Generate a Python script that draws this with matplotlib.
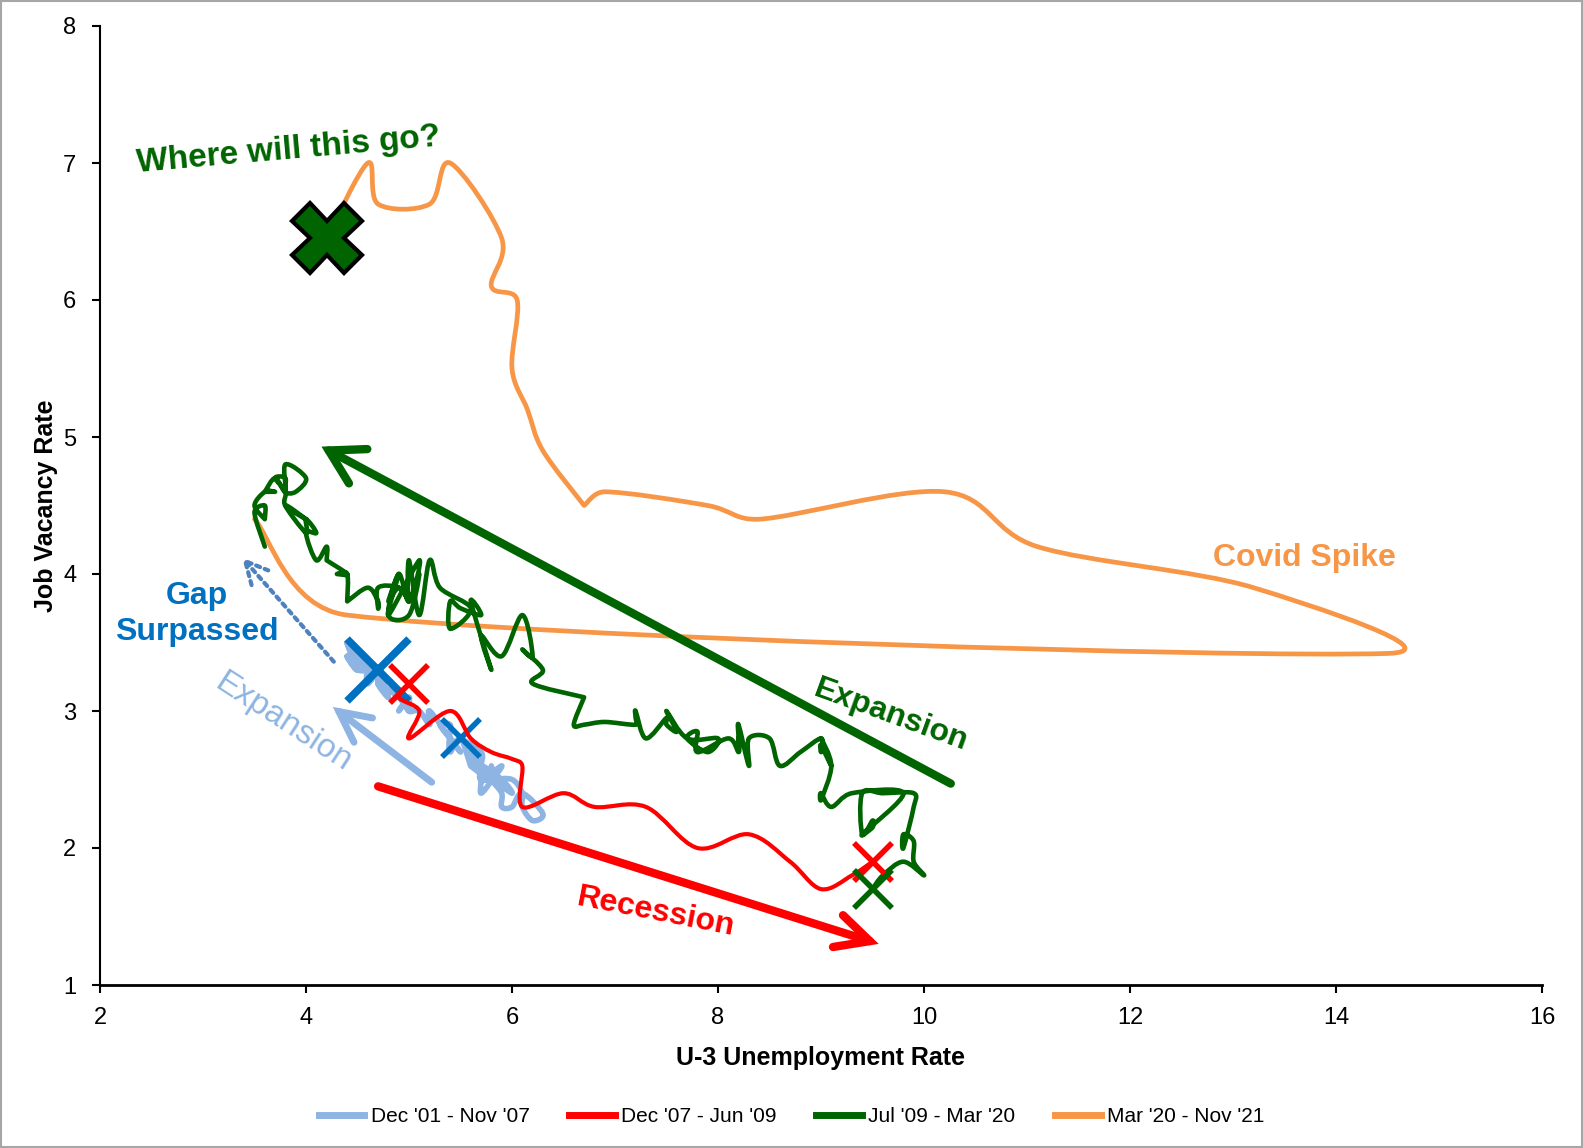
import numpy as np
import matplotlib
matplotlib.use("Agg")
import matplotlib.pyplot as plt
from matplotlib.path import Path
from matplotlib.patches import PathPatch, FancyArrowPatch, Rectangle
from matplotlib.lines import Line2D
from matplotlib import font_manager

# ---------------- data ----------------
series_labels = ["Dec '01 - Nov '07", "Dec '07 - Jun '09", "Jul '09 - Mar '20", "Mar '20 - Nov '21"]

blue_u = [5.5,
          5.7, 5.7, 5.7, 5.9, 5.8, 5.8, 5.8, 5.7, 5.7, 5.7, 5.9, 6.0,
          5.8, 5.9, 5.9, 6.0, 6.1, 6.3, 6.2, 6.1, 6.1, 6.0, 5.8, 5.7,
          5.7, 5.6, 5.8, 5.6, 5.6, 5.6, 5.5, 5.4, 5.4, 5.5, 5.4, 5.4,
          5.3, 5.4, 5.2, 5.2, 5.1, 5.0, 5.0, 4.9, 5.0, 5.0, 5.0, 4.9,
          4.7, 4.8, 4.7, 4.7, 4.6, 4.6, 4.7, 4.7, 4.5, 4.4, 4.5, 4.4,
          4.6, 4.5, 4.4, 4.5, 4.4, 4.6, 4.7, 4.6, 4.7, 4.7, 4.7]
blue_jo = [2.8,
           2.7, 2.6, 2.5, 2.6, 2.5, 2.6, 2.5, 2.4, 2.5, 2.6, 2.5, 2.4,
           2.5, 2.4, 2.3, 2.3, 2.4, 2.25, 2.2, 2.3, 2.4, 2.5, 2.5, 2.5,
           2.6, 2.6, 2.5, 2.7, 2.7, 2.6, 2.8, 2.7, 2.8, 2.7, 2.8, 2.9,
           2.9, 2.8, 3.0, 2.9, 3.0, 3.0, 3.1, 3.0, 3.1, 3.1, 3.0, 3.1,
           3.2, 3.1, 3.3, 3.3, 3.3, 3.2, 3.3, 3.3, 3.3, 3.4, 3.3, 3.5,
           3.3, 3.4, 3.5, 3.3, 3.4, 3.3, 3.3, 3.2, 3.3, 3.2, 3.3]

red_u = [5.0, 4.9, 5.1, 5.0, 5.4, 5.6, 5.8, 6.0, 6.1, 6.1, 6.5, 6.8, 7.3,
         7.8, 8.3, 8.7, 9.0, 9.3, 9.5]
red_jo = [3.2, 3.1, 3.0, 2.8, 3.0, 2.8, 2.7, 2.65, 2.6, 2.3, 2.4, 2.3, 2.3,
          2.0, 2.1, 1.9, 1.7, 1.8, 1.9]

green_u = [9.5, 9.6, 9.8, 10.0, 9.9, 9.9,
           9.8, 9.8, 9.9, 9.9, 9.6, 9.4, 9.4, 9.5, 9.5, 9.4, 9.8, 9.3,
           9.1, 9.0, 9.0, 9.1, 9.0, 9.1, 9.0, 9.0, 9.0, 8.8, 8.6, 8.5,
           8.3, 8.3, 8.2, 8.2, 8.2, 8.2, 8.2, 8.1, 7.8, 7.8, 7.7, 7.9,
           8.0, 7.7, 7.5, 7.6, 7.5, 7.5, 7.3, 7.2, 7.2, 7.2, 6.9, 6.7,
           6.6, 6.7, 6.7, 6.2, 6.3, 6.1, 6.2, 6.1, 5.9, 5.7, 5.8, 5.6,
           5.7, 5.5, 5.4, 5.4, 5.6, 5.3, 5.2, 5.1, 5.0, 5.0, 5.1, 5.0,
           4.8, 4.9, 5.0, 5.1, 4.8, 4.9, 4.8, 4.9, 5.0, 4.9, 4.7, 4.7,
           4.7, 4.6, 4.4, 4.4, 4.4, 4.3, 4.3, 4.4, 4.2, 4.2, 4.2, 4.1,
           4.0, 4.1, 4.0, 4.0, 3.8, 4.0, 3.8, 3.8, 3.7, 3.8, 3.8, 3.9,
           4.0, 3.8, 3.8, 3.7, 3.6, 3.6, 3.7, 3.6, 3.5, 3.6, 3.6, 3.6,
           3.5, 3.6]
green_jo = [1.7, 1.8, 1.9, 1.8, 1.9, 2.05,
            2.1, 2.0, 2.3, 2.4, 2.4, 2.4, 2.1, 2.2, 2.15, 2.1, 2.4, 2.4,
            2.3, 2.4, 2.35, 2.6, 2.8, 2.6, 2.75, 2.7, 2.8, 2.7, 2.6, 2.8,
            2.8, 2.6, 2.9, 2.8, 2.75, 2.8, 2.7, 2.8, 2.7, 2.85, 2.8, 2.7,
            2.8, 2.8, 3.0, 2.85, 2.9, 2.95, 2.8, 3.0, 2.95, 2.9, 2.92, 2.9,
            2.9, 3.1, 3.1, 3.2, 3.3, 3.45, 3.4, 3.7, 3.4, 3.55, 3.3, 3.8,
            3.7, 3.75, 3.8, 3.6, 3.75, 3.9, 4.1, 3.7, 4.1, 3.8, 4.0, 3.7,
            3.7, 4.0, 3.8, 4.1, 3.7, 4.0, 3.8, 3.9, 3.8, 3.9, 3.9, 3.75,
            3.8, 3.9, 3.8, 3.8, 4.0, 4.0, 4.0, 4.0, 4.1, 4.1, 4.2, 4.1,
            4.3, 4.3, 4.4, 4.3, 4.5, 4.4, 4.5, 4.6, 4.7, 4.7, 4.6, 4.6,
            4.7, 4.8, 4.6, 4.7, 4.6, 4.6, 4.6, 4.6, 4.5, 4.4, 4.4, 4.5,
            4.45, 4.2]

orange_u = [3.5, 4.4, 14.5, 13.2, 11.1, 10.2, 8.4, 7.9, 6.9, 6.7, 6.7, 6.3,
            6.15, 6.0, 6.05, 5.8, 5.9, 5.4, 5.2, 4.7, 4.6, 4.2]
orange_jo = [4.4, 3.7, 3.42, 3.9, 4.2, 4.6, 4.4, 4.5, 4.6, 4.5, 4.5, 4.9,
             5.2, 5.5, 6.0, 6.1, 6.45, 7.0, 6.7, 6.7, 7.0, 6.45]

x_ticks = [2, 4, 6, 8, 10, 12, 14, 16]
y_ticks = [1, 2, 3, 4, 5, 6, 7, 8]

# ---------------- styles ----------------
C_BLUE = '#8DB4E2'
C_RED = '#FF0000'
C_GREEN = '#006400'
C_ORANGE = '#F79646'
C_DBLUE = '#0070C0'
C_DOT = '#4F81BD'

FONT = 'Liberation Sans'
names = {f.name for f in font_manager.fontManager.ttflist}
LEG_FONT = 'Liberation Sans Narrow' if 'Liberation Sans Narrow' in names else FONT
plt.rcParams['font.family'] = [FONT, 'DejaVu Sans']

fig = plt.figure(figsize=(15.83, 11.48), dpi=100)
ax = fig.add_axes([100 / 1583, 1 - 985 / 1148, 1442 / 1583, (985 - 26) / 1148])
ax.set_xlim(2, 16)
ax.set_ylim(1, 8)
ax.set_xticks(x_ticks)
ax.set_yticks(y_ticks)
for s in ['top', 'right']:
    ax.spines[s].set_visible(False)
ax.spines['left'].set_linewidth(1.5)
ax.spines['bottom'].set_linewidth(2.0)
ax.tick_params(direction='out', length=6, width=1.5, labelsize=17)
ax.tick_params(axis='x', pad=10)
ax.tick_params(axis='y', pad=11)
ax.set_xlabel('U-3 Unemployment Rate', fontsize=18, fontweight='bold', labelpad=12)
ax.set_ylabel('Job Vacancy Rate', fontsize=18, fontweight='bold', labelpad=4)


def smooth_path(xs, ys, k=1 / 6, cap=0.45):
    P = ax.transData.transform(np.column_stack([xs, ys]))
    n = len(P)
    verts = [P[0]]
    codes = [Path.MOVETO]
    for i in range(n - 1):
        p0 = P[max(i - 1, 0)]
        p1 = P[i]
        p2 = P[i + 1]
        p3 = P[min(i + 2, n - 1)]
        seg = np.linalg.norm(p2 - p1)
        t1 = (p2 - p0) * k
        t2 = (p3 - p1) * k
        n1 = np.linalg.norm(t1)
        n2 = np.linalg.norm(t2)
        if n1 > cap * seg and n1 > 0:
            t1 = t1 * cap * seg / n1
        if n2 > cap * seg and n2 > 0:
            t2 = t2 * cap * seg / n2
        verts += [p1 + t1, p2 - t2, p2]
        codes += [Path.CURVE4] * 3
    verts = ax.transData.inverted().transform(np.array(verts))
    return Path(verts, codes)


def draw_series(xs, ys, color, lw, z):
    ax.add_patch(PathPatch(smooth_path(xs, ys), facecolor='none', edgecolor=color,
                           lw=lw, joinstyle='round', capstyle='round', zorder=z))


draw_series(orange_u, orange_jo, C_ORANGE, 3.4, 2)
draw_series(green_u, green_jo, C_GREEN, 3.3, 3)
draw_series(blue_u, blue_jo, C_BLUE, 4.0, 4)
ax.plot(blue_u[0], blue_jo[0], marker='x', ms=27, mew=4, color=C_DBLUE, zorder=5)
ax.plot(blue_u[-1], blue_jo[-1], marker='x', ms=44, mew=5.5, color=C_DBLUE, zorder=5)
draw_series(red_u, red_jo, C_RED, 3.0, 6)
ax.plot(red_u[0], red_jo[0], marker='x', ms=28, mew=4, color=C_RED, zorder=7)
ax.plot(red_u[-1], red_jo[-1], marker='x', ms=27, mew=4, color=C_RED, zorder=7)
ax.plot(green_u[0], green_jo[0], marker='x', ms=27, mew=4, color=C_GREEN, zorder=8)
ax.plot(orange_u[-1], orange_jo[-1], marker='X', ms=50, mew=3, mfc=C_GREEN, mec='black', zorder=9)


def arrow(tail, tip, color, lw, style, ls='-', z=6):
    a = FancyArrowPatch(tail, tip, arrowstyle=style, mutation_scale=20, lw=lw, color=color,
                        linestyle=ls, shrinkA=0, shrinkB=0, zorder=z, joinstyle='miter')
    ax.add_patch(a)


arrow((10.26, 2.47), (4.15, 4.93), C_GREEN, 6, '->,head_length=1.2,head_width=0.7', z=5)
arrow((4.70, 2.45), (9.56, 1.30), C_RED, 6, '->,head_length=1.2,head_width=0.6', z=5)
arrow((5.22, 2.48), (4.26, 3.03), C_BLUE, 5, '->,head_length=1.1,head_width=0.55', z=5)
arrow((4.27, 3.36), (3.38, 4.12), C_DOT, 3, '->,head_length=0.8,head_width=0.4', ls=(0, (1, 1.2)), z=5)

ax.text(3.83, 7.09, 'Where will this go?', color=C_GREEN, fontsize=24, fontweight='bold',
        rotation=5, ha='center', va='center', rotation_mode='anchor')
ax.text(13.69, 4.12, 'Covid Spike', color=C_ORANGE, fontsize=23, fontweight='bold',
        ha='center', va='center')
ax.text(2.94, 3.71, 'Gap\nSurpassed', color=C_DBLUE, fontsize=23, fontweight='bold',
        ha='center', va='center', linespacing=1.25)
ax.text(9.68, 2.97, 'Expansion', color=C_GREEN, fontsize=23, fontweight='bold',
        rotation=-20, ha='center', va='center', rotation_mode='anchor')
ax.text(3.78, 2.92, 'Expansion', color=C_BLUE, fontsize=24,
        rotation=-33, ha='center', va='center', rotation_mode='anchor')
ax.text(7.40, 1.53, 'Recession', color=C_RED, fontsize=23, fontweight='bold',
        rotation=-11, ha='center', va='center', rotation_mode='anchor')

handles = [Line2D([], [], color=c, lw=5) for c in [C_BLUE, C_RED, C_GREEN, C_ORANGE]]
fig.legend(handles, series_labels, loc='center', bbox_to_anchor=(0.5, 1 - 1117 / 1148),
           ncol=4, frameon=False, prop={'family': LEG_FONT, 'size': 15},
           handlelength=2.2, handletextpad=0.3, columnspacing=1.9)

fig.patches.append(Rectangle((0.0008, 0.0008), 0.9984, 0.9984, transform=fig.transFigure,
                             fill=False, edgecolor='#A6A6A6', lw=1.5))

fig.savefig('out.png', dpi=100)
